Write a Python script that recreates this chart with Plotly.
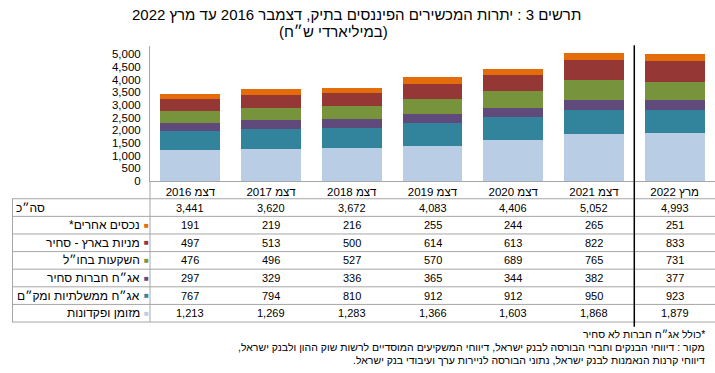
import plotly.graph_objects as go

W, H = 715, 373
L = 150  # left margin in px

categories = ["דצמ 2016", "דצמ 2017", "דצמ 2018", "דצמ 2019", "דצמ 2020", "דצמ 2021", "מרץ 2022"]
cash = [1213, 1269, 1283, 1366, 1603, 1868, 1879]
gov_bonds = [767, 794, 810, 912, 912, 950, 923]
corp_bonds = [297, 329, 336, 365, 344, 382, 377]
abroad = [476, 496, 527, 570, 689, 765, 731]
stocks = [497, 513, 500, 614, 613, 822, 833]
other = [191, 219, 216, 255, 244, 265, 251]
totals = [3441, 3620, 3672, 4083, 4406, 5052, 4993]

series_names = ["מזומן ופקדונות", "אג״ח ממשלתיות ומק״ם", "אג״ח חברות סחיר",
                "השקעות בחו״ל", "מניות בארץ - סחיר", "נכסים אחרים*"]
series_values = [cash, gov_bonds, corp_bonds, abroad, stocks, other]
colors = ["#B9CDE5", "#31849B", "#604A7B", "#77933C", "#953735", "#E46C0A"]

title1 = "תרשים 3 : יתרות המכשירים הפיננסים בתיק, דצמבר 2016 עד מרץ 2022"
title2 = "(במיליארדי ש״ח)"
total_label = "סה״כ"
notes = ["*כולל אג״ח חברות לא סחיר",
         "מקור : דיווחי הבנקים וחברי הבורסה לבנק ישראל, דיווחי המשקיעים המוסדיים לרשות שוק ההון ולבנק ישראל,",
         "דיווחי קרנות הנאמנות לבנק ישראל, נתוני הבורסה לניירות ערך ועיבודי בנק ישראל."]


def rtl(s):
    return "\u202B" + s + "\u202C"


def xp(px):
    return (px - L) / (W - L)


def yp(py):
    return 1 - py / H


FONT = "Liberation Sans, Arial, DejaVu Sans, sans-serif"
GRID = "#A6A6A6"

# y axis geometry: 0 at y=184px, 5000 at y=55px
y0_px, y5k_px = 184, 55
ppu = (y0_px - y5k_px) / 5000.0
ytop = 5300
top_px = y0_px - ytop * ppu

fig = go.Figure()
for name, vals, col in zip(series_names, series_values, colors):
    fig.add_trace(go.Bar(x=[rtl(c) for c in categories], y=vals, name=name,
                         marker=dict(color=col, line=dict(width=0)), hoverinfo="skip"))

fig.update_layout(
    width=W, height=H, barmode="stack", bargap=0.26,
    margin=dict(l=L, r=0, t=0, b=0),
    paper_bgcolor="white", plot_bgcolor="white",
    showlegend=False,
    font=dict(family=FONT, size=11, color="#000000"),
    xaxis=dict(domain=[0, 1], showline=True, linecolor=GRID, linewidth=1,
               ticks="", showgrid=False, tickfont=dict(size=11.5), fixedrange=True),
    yaxis=dict(domain=[yp(y0_px), yp(top_px)], range=[0, ytop], showline=True,
               linecolor=GRID, linewidth=1, showgrid=False, zeroline=False,
               tickvals=list(range(0, 5001, 500)), tickformat=",", ticks="",
               ticklabelstandoff=6, tickfont=dict(size=11.5), fixedrange=True),
)

shapes = []
ann = []

# table grid
row_top = 202
row_h = 17.9
nrows = 7
row_lines = [row_top + row_h * k for k in range(nrows + 1)]
for yy in row_lines:
    shapes.append(dict(type="line", xref="paper", yref="paper", x0=xp(12), x1=xp(W),
                       y0=yp(yy), y1=yp(yy), line=dict(color=GRID, width=1)))
for xx in [12.5, L]:
    shapes.append(dict(type="line", xref="paper", yref="paper", x0=xp(xx), x1=xp(xx),
                       y0=yp(row_top if xx < 100 else y0_px), y1=yp(row_lines[-1]),
                       line=dict(color=GRID, width=1)))
# thick divider between Dec 2021 and Mar 2022
shapes.append(dict(type="line", xref="x", yref="paper", x0=5.5, x1=5.5,
                   y0=yp(332), y1=yp(46), line=dict(color="#000000", width=1.5)))

# table rows: total then series top to bottom
rows = [(total_label, totals, None)]
for name, vals, col in reversed(list(zip(series_names, series_values, colors))):
    rows.append((name, vals, col))

for r, (name, vals, col) in enumerate(rows):
    yc = yp(row_top + row_h * (r + 0.5))
    if col is None:
        ann.append(dict(x=xp(14), y=yc, xref="paper", yref="paper", text=rtl(name),
                        showarrow=False, xanchor="left", yanchor="middle",
                        font=dict(size=12)))
    else:
        ann.append(dict(x=xp(142), y=yc, xref="paper", yref="paper", text=rtl(name),
                        showarrow=False, xanchor="right", yanchor="middle",
                        font=dict(size=12)))
        ann.append(dict(x=xp(146), y=yc, xref="paper", yref="paper", text="■",
                        showarrow=False, xanchor="center", yanchor="middle",
                        font=dict(size=8, color=col)))
    for i, v in enumerate(vals):
        ann.append(dict(x=i, y=yc, xref="x", yref="paper", text=f"{v:,}",
                        showarrow=False, xanchor="center", yanchor="middle",
                        font=dict(size=11)))

# title
ann.append(dict(x=xp(356), y=yp(15), xref="paper", yref="paper", text=rtl(title1),
                showarrow=False, xanchor="center", yanchor="middle", font=dict(size=15)))
ann.append(dict(x=xp(333), y=yp(32), xref="paper", yref="paper", text=rtl(title2),
                showarrow=False, xanchor="center", yanchor="middle", font=dict(size=15)))

# notes
for k, t in enumerate(notes):
    ann.append(dict(x=xp(707), y=yp(339 + 13.5 * k), xref="paper", yref="paper", text=rtl(t),
                    showarrow=False, xanchor="right", yanchor="middle", font=dict(size=10.5)))

fig.update_layout(shapes=shapes, annotations=ann)
fig.write_html("out.html", config={"displayModeBar": False},
               post_script="document.body.style.margin='0';")
